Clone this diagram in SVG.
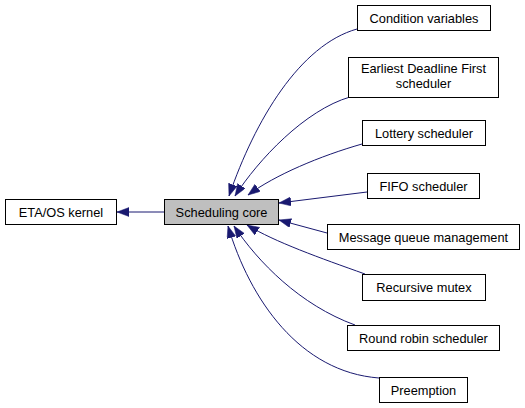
<svg xmlns="http://www.w3.org/2000/svg" width="525" height="408" viewBox="0 0 525 408">
<style>
.box{fill:#ffffff;stroke:#000000;stroke-width:1}
.cur{fill:#bfbfbf;stroke:#000000;stroke-width:1}
text{font-family:"Liberation Sans",Arial,sans-serif;font-size:12.8px;fill:#000000;text-anchor:middle}
.edge{fill:none;stroke:#191970;stroke-width:1}
</style>
<defs>
<marker id="arr" markerUnits="userSpaceOnUse" markerWidth="13" markerHeight="10" refX="12" refY="4.5" orient="auto">
<path d="M0,0 L12,4.5 L0,9 z" fill="#191970" stroke="#191970" stroke-width="0.5"/>
</marker>
</defs>
<g id="connectors">
<path class="edge" marker-end="url(#arr)" d="M164,212 L117,212"/>
<path class="edge" marker-end="url(#arr)" d="M357,29 C300,45 255,120 229,196"/>
<path class="edge" marker-end="url(#arr)" d="M350,97 C305,110 258,160 235,196"/>
<path class="edge" marker-end="url(#arr)" d="M362,144 C320,156 275,175 248,195"/>
<path class="edge" marker-end="url(#arr)" d="M367,192 L279,203"/>
<path class="edge" marker-end="url(#arr)" d="M327,233 L279,220"/>
<path class="edge" marker-end="url(#arr)" d="M365,274 C320,258 275,242 247,225"/>
<path class="edge" marker-end="url(#arr)" d="M355,325 C300,305 258,262 234,226"/>
<path class="edge" marker-end="url(#arr)" d="M379,378 C300,372 250,300 228,226"/>
</g>
<g id="kernel">
<rect class="box" x="5.5" y="199.5" width="111" height="25"/>
<text x="61" y="216.5">ETA/OS kernel</text>
</g>
<g id="core">
<rect class="cur" x="164.5" y="199.5" width="114" height="25"/>
<text x="221.5" y="216.5">Scheduling core</text>
</g>
<g id="condvar">
<rect class="box" x="357.5" y="5.5" width="133" height="25"/>
<text x="424" y="22.5">Condition variables</text>
</g>
<g id="edf">
<rect class="box" x="348.5" y="57.5" width="150" height="40"/>
<text x="423.5" y="73">Earliest Deadline First</text>
<text x="423.5" y="88">scheduler</text>
</g>
<g id="lottery">
<rect class="box" x="362.5" y="120.5" width="123" height="25"/>
<text x="424" y="137.5">Lottery scheduler</text>
</g>
<g id="fifo">
<rect class="box" x="367.5" y="173.5" width="112" height="25"/>
<text x="423.5" y="190.5">FIFO scheduler</text>
</g>
<g id="mqueue">
<rect class="box" x="327.5" y="224.5" width="192" height="25"/>
<text x="423.5" y="241.5">Message queue management</text>
</g>
<g id="rmutex">
<rect class="box" x="362.5" y="274.5" width="123" height="26"/>
<text x="424" y="292">Recursive mutex</text>
</g>
<g id="roundrobin">
<rect class="box" x="347.5" y="325.5" width="152" height="25"/>
<text x="423.5" y="342.5">Round robin scheduler</text>
</g>
<g id="preemption">
<rect class="box" x="379.5" y="377.5" width="88" height="25"/>
<text x="423.5" y="394.5">Preemption</text>
</g>
</svg>
